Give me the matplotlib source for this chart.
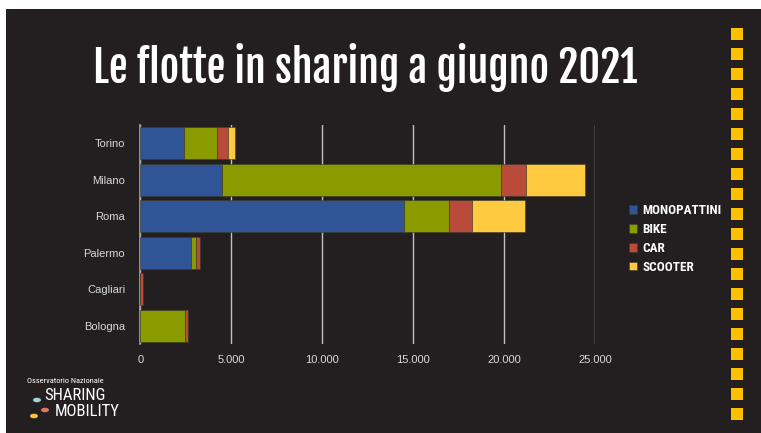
import matplotlib
matplotlib.use("Agg")
import matplotlib.pyplot as plt
import numpy as np
from matplotlib.patches import Rectangle
import logging

logging.getLogger("matplotlib.font_manager").setLevel(logging.ERROR)

# data
cities = ["Torino", "Milano", "Roma", "Palermo", "Cagliari", "Bologna"]
monopattini = [2390, 4480, 14480, 2780, 0, 0]
bike = [1830, 15320, 2490, 270, 0, 2460]
car = [610, 1380, 1280, 240, 140, 150]
scooter = [360, 3260, 2890, 0, 0, 0]
x_ticks = [0, 5000, 10000, 15000, 20000, 25000]
x_labels = ["0", "5.000", "10.000", "15.000", "20.000", "25.000"]

series = [
    ("MONOPATTINI", monopattini, "#2F5597"),
    ("BIKE", bike, "#8A9B00"),
    ("CAR", car, "#BA4B3A"),
    ("SCOOTER", scooter, "#FFC940"),
]

W, H = 761, 433
BG = "#231F20"
title_font = ["Fjalla One", "Francois One", "Roboto Condensed", "DejaVu Sans"]
narrow = ["Roboto Condensed", "Archivo Narrow", "Sofia Sans Condensed", "DejaVu Sans"]
plain = ["Liberation Sans", "DejaVu Sans"]

fig = plt.figure(figsize=(W / 100, H / 100), dpi=100, facecolor="white")

# dark panel, white strip at top / left
fig.patches.append(Rectangle((6 / W, 0), 1 - 6 / W, 1 - 9 / H,
                             transform=fig.transFigure, facecolor=BG,
                             edgecolor="none", zorder=-10))

# yellow dotted strip on the right
for i in range(20):
    y0 = 28 + 20 * i
    fig.patches.append(Rectangle((731 / W, 1 - (y0 + 12) / H), 12 / W, 12 / H,
                                 transform=fig.transFigure, facecolor="#FFC000",
                                 edgecolor="none", zorder=1))

title = fig.text(365 / W, 1 - 67 / H, "Le flotte in sharing a giugno 2021",
                 ha="center", va="center", color="white", fontsize=30,
                 fontweight="bold", family=title_font)
# fit title width to the reference (~544 px)
renderer = fig.canvas.get_renderer()
tw = title.get_window_extent(renderer).width
title.set_fontsize(30 * 544 / tw)

ax = fig.add_axes([140.3 / W, 1 - 344 / H, 455 / W, 219 / H])
ax.set_facecolor(BG)

y = np.arange(len(cities))[::-1]
left = np.zeros(len(cities))
for name, vals, color in series:
    vals = np.array(vals, dtype=float)
    ax.barh(y, vals, left=left, height=0.88, color=color, label=name,
            edgecolor="#3a3a2a", linewidth=0.4, zorder=3)
    left += vals

ax.set_xlim(0, 25000)
ax.set_ylim(-0.5, len(cities) - 0.5)
ax.set_xticks(x_ticks)
ax.set_xticklabels(x_labels, family=plain)
ax.set_yticks(y)
ax.set_yticklabels(cities, family=plain)
ax.tick_params(axis="both", length=0, colors="#d9d9d9", labelsize=8)
ax.tick_params(axis="x", pad=8)
ax.tick_params(axis="y", pad=11)
ax.grid(axis="x", color="#bfbfbf", linewidth=1.0, zorder=1)
for side in ["top", "right", "bottom"]:
    ax.spines[side].set_visible(False)
ax.spines["left"].set_color("#a6a6a6")
ax.spines["left"].set_linewidth(1.2)
ax.spines["left"].set_zorder(2)

handles, labels = ax.get_legend_handles_labels()
leg = fig.legend(handles, labels, loc="center left",
                 bbox_to_anchor=(617 / W, 1 - 239 / H), frameon=False,
                 handlelength=0.6, handleheight=0.6, handletextpad=0.4,
                 labelspacing=0.45, prop={"family": narrow, "weight": "bold", "size": 9.5})
for t in leg.get_texts():
    t.set_color("white")

# logo
fig.text(27 / W, 1 - 381 / H, "Osservatorio Nazionale", color="white",
         fontsize=6, family=narrow, va="center")
fig.text(44 / W, 1 - 396 / H, "SHARING", color="white", fontsize=12,
         family=narrow, va="center")
fig.text(55 / W, 1 - 412 / H, "MOBILITY", color="white", fontsize=12,
         family=narrow, va="center")
pins_x = [37, 45, 34]
pins_y = [400, 410, 416]
pin_colors = ["#9fd3d6", "#e9735a", "#f7c33a"]
for px, py, pc in zip(pins_x, pins_y, pin_colors):
    fig.patches.append(plt.Circle((px / W, 1 - py / H), 4 / W, transform=fig.transFigure,
                                  facecolor=pc, edgecolor="none"))

fig.savefig("out.png", dpi=100, facecolor=fig.get_facecolor())
